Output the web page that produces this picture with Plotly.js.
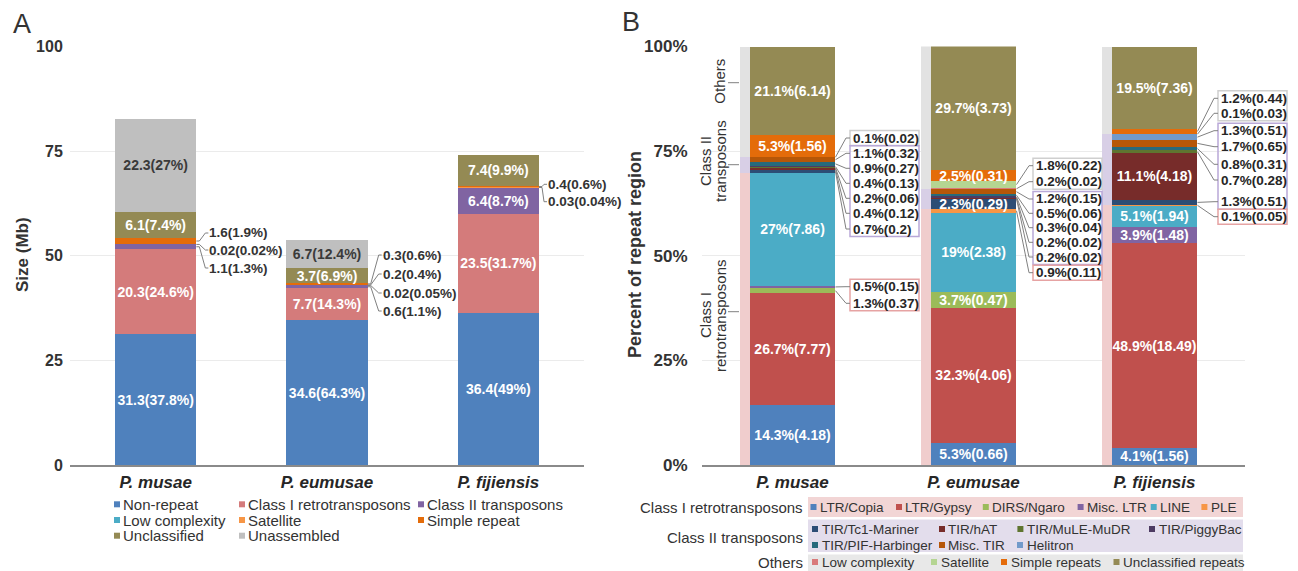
<!DOCTYPE html>
<html><head><meta charset="utf-8">
<script src="https://cdn.plot.ly/plotly-3.0.1.min.js"></script>
<style>html,body{margin:0;padding:0;background:#fff}</style>
</head><body>
<div id="chart" style="width:1298px;height:571px"></div>
<script>
// ================= DATA =================
// Panel A : genome composition (Mb and % of genome)
const speciesA = ['P. musae', 'P. eumusae', 'P. fijiensis'];
const namesA = ['Non-repeat', 'Class I retrotransposons', 'Class II transposons', 'Low complexity',
                'Satellite', 'Simple repeat', 'Unclassified', 'Unassembled'];
const tickValsA = [0, 25, 50, 75, 100];
const nonRepeatMb = [31.3, 34.6, 36.4],  nonRepeatPct = [37.8, 64.3, 49];
const classIMb    = [20.3, 7.7, 23.5],   classIPct    = [24.6, 14.3, 31.7];
const classIIMb   = [1.1, 0.6, 6.4],     classIIPct   = [1.3, 1.1, 8.7];
const lowCompAMb  = [0, 0.02, 0],        lowCompAPct  = [0, 0.05, 0];
const satAMb      = [0.02, 0.2, 0.03],   satAPct      = [0.02, 0.4, 0.04];
const simpleAMb   = [1.6, 0.3, 0.4],     simpleAPct   = [1.9, 0.6, 0.6];
const unclassAMb  = [6.1, 3.7, 7.4],     unclassAPct  = [7.4, 6.9, 9.9];
const unassemMb   = [22.3, 6.7, 0],      unassemPct   = [27, 12.4, 0];

// Panel B : composition of the repeat region (% and Mb)
const speciesB = ['P. musae', 'P. eumusae', 'P. fijiensis'];
const tickValsB = [0, 25, 50, 75, 100];
const tickTextB = ['0%', '25%', '50%', '75%', '100%'];
const namesB = ['LTR/Copia', 'LTR/Gypsy', 'DIRS/Ngaro', 'Misc. LTR', 'LINE', 'PLE',
  'TIR/Tc1-Mariner', 'TIR/hAT', 'TIR/MuLE-MuDR', 'TIR/PiggyBac', 'TIR/PIF-Harbinger', 'Misc. TIR', 'Helitron',
  'Low complexity', 'Satellite', 'Simple repeats', 'Unclassified repeats'];
const groupB = [1, 1, 1, 1, 1, 1, 2, 2, 2, 2, 2, 2, 2, 3, 3, 3, 3];
const groupNamesB = ['Class I retrotransposons', 'Class II transposons', 'Others'];
const copiaPct = [14.3, 5.3, 4.1],   copiaMb = [4.18, 0.66, 1.56];
const gypsyPct = [26.7, 32.3, 48.9], gypsyMb = [7.77, 4.06, 18.49];
const dirsPct = [1.3, 3.7, 0],       dirsMb = [0.37, 0.47, 0];
const miscLtrPct = [0.5, 0, 3.9],    miscLtrMb = [0.15, 0, 1.48];
const linePct = [27, 19, 5.1],       lineMb = [7.86, 2.38, 1.94];
const plePct = [0, 0.9, 0.1],        pleMb = [0, 0.11, 0.05];
const tc1Pct = [0.7, 2.3, 1.3],      tc1Mb = [0.2, 0.29, 0.51];
const hatPct = [0.4, 0.2, 11.1],     hatMb = [0.12, 0.02, 4.18];
const mulePct = [0.2, 0.2, 0.7],     muleMb = [0.06, 0.02, 0.28];
const piggyPct = [0.4, 0.3, 0],      piggyMb = [0.13, 0.04, 0];
const pifPct = [0.9, 0.5, 0.8],      pifMb = [0.27, 0.06, 0.31];
const miscTirPct = [1.1, 1.2, 1.7],  miscTirMb = [0.32, 0.15, 0.65];
const helitronPct = [0, 0, 1.3],     helitronMb = [0, 0, 0.51];
const lowCompPct = [0, 0.2, 0],      lowCompMb = [0, 0.02, 0];
const satPct = [0.1, 1.8, 0.1],      satMb = [0.02, 0.22, 0.03];
const simplePct = [5.3, 2.5, 1.2],   simpleMb = [1.56, 0.31, 0.44];
const unclassPct = [21.1, 29.7, 19.5], unclassMb = [6.14, 3.73, 7.36];

// ================= STYLE / LAYOUT CONFIG =================
const W = 1298, H = 571;
const F = 'Liberation Sans, Arial, Helvetica, sans-serif';
const TXT = '#333333';
const A_X0 = 70, A_X1 = 584, B_X0 = 702, B_X1 = 1245, Y_TOP = 46.5, Y_BOT = 465;
const BAR_W = 0.475, STRIP_W = 0.055;
const fx = p => p / W, fy = p => 1 - p / H;
const vy = v => Y_BOT - v * (Y_BOT - Y_TOP) / 100;
const cxA = (i, off) => A_X0 + (i + 0.5 + off) * (A_X1 - A_X0) / 3;
const cxB = (i, off) => B_X0 + (i + 0.5 + off) * (B_X1 - B_X0) / 3;

const colorsA = ['#4f81bd', '#d47b7b', '#8064a2', '#4bacc6', '#f79646', '#e46c0a', '#948a54', '#bfbfbf'];
const textColA = ['#fff', '#fff', '#fff', '#fff', '#fff', '#fff', '#fff', '#3a3a3a'];
const colorsB = ['#4f81bd', '#c0504d', '#9bbb59', '#8064a2', '#4bacc6', '#f79646',
  '#2c4d75', '#772c2a', '#5f7530', '#4d3b62', '#276a7c', '#b65708', '#729aca',
  '#d97a7a', '#b5d592', '#e46c0a', '#948a54'];
const stripColors = {1: '#f0cdcd', 2: '#d8cfe6', 3: '#e2e2e2'};
const boxColors = {1: '#e6a3a3', 2: '#b9a8d8', 3: '#cfcfcf'};
const legendBg = {1: '#f2d5d5', 2: '#e3ddec', 3: '#e8e8e8'};

const rowsA = [[233, 250, 268], [255, 274, 293, 311], [184.3, 201.7]];
const gapA = [13, 15, 9];
const boxLeftB = [850, 1033, 1218], BOX_W = 69;
const rowsB = {
  3: [[138], [165.7, 181.7], [98.3, 113.3]],
  2: [[153.3, 168.3, 183.3, 198.3, 213.3, 229], [199, 213.3, 227.7, 242.3, 257], [130.7, 146.7, 164.3, 180, 201.7]],
  1: [[286.7, 303.3], [272.7], [216.7]]
};

// ================= BUILD =================
const seriesA = [
  {mb: nonRepeatMb, pct: nonRepeatPct}, {mb: classIMb, pct: classIPct}, {mb: classIIMb, pct: classIIPct},
  {mb: lowCompAMb, pct: lowCompAPct}, {mb: satAMb, pct: satAPct}, {mb: simpleAMb, pct: simpleAPct},
  {mb: unclassAMb, pct: unclassAPct}, {mb: unassemMb, pct: unassemPct}];
const seriesB = [
  {pct: copiaPct, mb: copiaMb}, {pct: gypsyPct, mb: gypsyMb}, {pct: dirsPct, mb: dirsMb},
  {pct: miscLtrPct, mb: miscLtrMb}, {pct: linePct, mb: lineMb}, {pct: plePct, mb: pleMb},
  {pct: tc1Pct, mb: tc1Mb}, {pct: hatPct, mb: hatMb}, {pct: mulePct, mb: muleMb},
  {pct: piggyPct, mb: piggyMb}, {pct: pifPct, mb: pifMb}, {pct: miscTirPct, mb: miscTirMb},
  {pct: helitronPct, mb: helitronMb}, {pct: lowCompPct, mb: lowCompMb}, {pct: satPct, mb: satMb},
  {pct: simplePct, mb: simpleMb}, {pct: unclassPct, mb: unclassMb}];

const traces = [], annotations = [], shapes = [];
const labFont = (size, color, weight) => ({family: F, size: size, color: color, weight: weight || 'normal'});

// ---- Panel A bars ----
seriesA.forEach((s, k) => {
  traces.push({
    type: 'bar', x: speciesA, y: s.mb, name: namesA[k], width: BAR_W, xaxis: 'x', yaxis: 'y',
    marker: {color: colorsA[k], line: {width: 0}},
    text: s.mb.map((v, i) => v >= 3 ? `${v}(${s.pct[i]}%)` : ''),
    textposition: 'inside', insidetextanchor: 'middle', textangle: 0, constraintext: 'none',
    insidetextfont: labFont(14, textColA[k], 'bold'),
    showlegend: false, hoverinfo: 'skip'
  });
});
// Panel A outside labels
for (let i = 0; i < 3; i++) {
  let base = 0; const segs = [];
  seriesA.forEach((s, k) => { const v = s.mb[i]; segs.push({k, lo: base, hi: base + v, v}); base += v; });
  const outs = segs.filter(g => g.v > 0 && g.v < 3).reverse();
  const xr = cxA(i, BAR_W / 2), xt = xr + gapA[i];
  outs.forEach((g, r) => {
    const yRow = rowsA[i][r], ym = vy((g.lo + g.hi) / 2);
    annotations.push({xref: 'paper', yref: 'paper', x: fx(xt - 2), y: fy(yRow), xanchor: 'left', yanchor: 'middle',
      text: `${g.v}(${seriesA[g.k].pct[i]}%)`, showarrow: false, font: labFont(13.5, TXT, 'bold')});
    shapes.push({type: 'path', xref: 'paper', yref: 'paper', layer: 'above',
      path: `M${fx(xr)},${fy(ym)} L${fx(xr + 3)},${fy(ym)} L${fx(xt - 4)},${fy(yRow)} L${fx(xt - 1)},${fy(yRow)}`,
      line: {color: '#808080', width: 1}});
  });
}

// ---- Panel B bars ----
seriesB.forEach((s, k) => {
  traces.push({
    type: 'bar', x: speciesB, y: s.pct, name: namesB[k], width: BAR_W, xaxis: 'x2', yaxis: 'y2',
    marker: {color: colorsB[k], line: {width: 0}},
    text: s.pct.map((v, i) => v >= 2 ? `${v}%(${s.mb[i]})` : ''),
    textposition: 'inside', insidetextanchor: 'middle', textangle: 0, constraintext: 'none',
    insidetextfont: labFont(14, '#fff', 'bold'),
    showlegend: false, hoverinfo: 'skip'
  });
});
// class strips left of each bar
[1, 2, 3].forEach(g => {
  const tot = [0, 1, 2].map(i => seriesB.reduce((a, s, k) => a + (groupB[k] === g ? s.pct[i] : 0), 0));
  traces.push({type: 'bar', x: speciesB, y: tot, name: groupNamesB[g - 1], width: STRIP_W, offset: -BAR_W / 2 - STRIP_W,
    xaxis: 'x3', yaxis: 'y2', marker: {color: stripColors[g], line: {width: 0}}, showlegend: false, hoverinfo: 'skip'});
});
// Panel B outside boxed labels
for (let i = 0; i < 3; i++) {
  let base = 0; const segs = [];
  seriesB.forEach((s, k) => { const v = s.pct[i]; segs.push({k, lo: base, hi: base + v, v}); base += v; });
  const xr = cxB(i, BAR_W / 2), bl = boxLeftB[i];
  [3, 2, 1].forEach(g => {
    const outs = segs.filter(sg => groupB[sg.k] === g && sg.v > 0 && sg.v < 2).reverse();
    const rows = rowsB[g][i];
    if (!outs.length) return;
    shapes.push({type: 'rect', xref: 'paper', yref: 'paper', layer: 'above',
      x0: fx(bl), x1: fx(bl + BOX_W), y0: fy(rows[0] - 7.5), y1: fy(rows[rows.length - 1] + 7.5),
      line: {color: boxColors[g], width: 1.5}, fillcolor: 'rgba(255,255,255,0)'});
    outs.forEach((sg, r) => {
      const yRow = rows[r], ym = vy((sg.lo + sg.hi) / 2);
      annotations.push({xref: 'paper', yref: 'paper', x: fx(bl + 0.5), y: fy(yRow), xanchor: 'left', yanchor: 'middle',
        text: `${sg.v}%(${seriesB[sg.k].mb[i]})`, showarrow: false, font: labFont(13.5, '#262626', 'bold')});
      shapes.push({type: 'path', xref: 'paper', yref: 'paper', layer: 'above',
        path: `M${fx(xr)},${fy(ym)} L${fx(bl - 4)},${fy(yRow)} L${fx(bl)},${fy(yRow)}`,
        line: {color: '#808080', width: 1}});
    });
  });
}

// Panel B class labels at the left of the strips
const groupSideLabels = [
  {lines: ['Others'], xs: [720], y: 80.7, lineY: 82.7},
  {lines: ['Class II', 'transposons'], xs: [705, 720], y: 161, lineY: 164.7},
  {lines: ['Class I', 'retrotransposons'], xs: [705, 720], y: 315, lineY: 311.7}];
groupSideLabels.forEach(gl => {
  gl.lines.forEach((t, j) => annotations.push({xref: 'paper', yref: 'paper', x: fx(gl.xs[j]), y: fy(gl.y),
    xanchor: 'center', yanchor: 'middle', textangle: -90, text: t, showarrow: false, font: labFont(15, TXT)}));
  shapes.push({type: 'line', xref: 'paper', yref: 'paper', x0: fx(728), x1: fx(739), y0: fy(gl.lineY), y1: fy(gl.lineY),
    line: {color: '#808080', width: 1}});
});

// Panel letters and axis titles
annotations.push({xref: 'paper', yref: 'paper', x: fx(11), y: fy(24), xanchor: 'left', yanchor: 'middle', text: 'A', showarrow: false, font: labFont(27, TXT)});
annotations.push({xref: 'paper', yref: 'paper', x: fx(620), y: fy(22), xanchor: 'left', yanchor: 'middle', text: 'B', showarrow: false, font: labFont(27, TXT)});
annotations.push({xref: 'paper', yref: 'paper', x: fx(22), y: fy(255), xanchor: 'center', yanchor: 'middle', textangle: -90, text: 'Size (Mb)', showarrow: false, font: labFont(17, TXT, 'bold')});
annotations.push({xref: 'paper', yref: 'paper', x: fx(635), y: fy(255), xanchor: 'center', yanchor: 'middle', textangle: -90, text: 'Percent of repeat region', showarrow: false, font: labFont(18, TXT, 'bold')});

// Legend A
const legACols = [114, 239, 418], legARows = [504.3, 520, 535.7];
namesA.forEach((n, k) => {
  const x = legACols[k % 3], y = legARows[Math.floor(k / 3)];
  shapes.push({type: 'rect', xref: 'paper', yref: 'paper', x0: fx(x), x1: fx(x + 6), y0: fy(y - 3), y1: fy(y + 3), line: {width: 0}, fillcolor: colorsA[k]});
  annotations.push({xref: 'paper', yref: 'paper', x: fx(x + 7), y: fy(y), xanchor: 'left', yanchor: 'middle', text: n, showarrow: false, font: labFont(15, TXT)});
});

// Legend B
const legBBg = {1: [497, 517], 2: [519.5, 552], 3: [554.5, 571]};
const legBGroupY = {1: 507, 2: 537, 3: 562};
[1, 2, 3].forEach(g => {
  shapes.push({type: 'rect', xref: 'paper', yref: 'paper', layer: 'below', x0: fx(808), x1: fx(1243), y0: fy(legBBg[g][0]), y1: fy(legBBg[g][1]), line: {width: 0}, fillcolor: legendBg[g]});
  annotations.push({xref: 'paper', yref: 'paper', x: fx(805), y: fy(legBGroupY[g]), xanchor: 'right', yanchor: 'middle', text: groupNamesB[g - 1], showarrow: false, font: labFont(15, TXT)});
});
const legBPos = [[810.5, 507], [896, 507], [982.8, 507], [1077.6, 507], [1150.7, 507], [1201.4, 507],
  [812, 529], [939, 529], [1017.4, 529], [1149, 529], [812, 545], [939, 545], [1017, 545],
  [812, 562], [931, 562], [1001, 562], [1113.5, 562]];
namesB.forEach((n, k) => {
  const [x, y] = legBPos[k];
  shapes.push({type: 'rect', xref: 'paper', yref: 'paper', x0: fx(x), x1: fx(x + 6), y0: fy(y - 3), y1: fy(y + 3), line: {width: 0}, fillcolor: colorsB[k]});
  annotations.push({xref: 'paper', yref: 'paper', x: fx(x + 7.5), y: fy(y), xanchor: 'left', yanchor: 'middle', text: n, showarrow: false, font: labFont(13.5, TXT)});
});

// ================= LAYOUT =================
const yDom = [1 - Y_BOT / H, 1 - Y_TOP / H];
const catTickFont = {family: F, size: 17, weight: 'bold', style: 'italic', color: '#262626'};
const xBase = {type: 'category', range: [-0.5, 2.5], showgrid: false, zeroline: false, showline: true,
  linecolor: '#8a8a8a', linewidth: 1.5, ticks: 'outside', ticklen: 1, tickcolor: 'rgba(0,0,0,0)', tickfont: catTickFont, fixedrange: true};
const yBase = {range: [0, 100], domain: yDom, showgrid: true, gridcolor: '#ebebeb', gridwidth: 1, zeroline: false, showline: false,
  ticks: 'outside', tickcolor: 'rgba(0,0,0,0)', fixedrange: true};
const layout = {
  width: W, height: H, margin: {l: 0, r: 0, t: 0, b: 0}, paper_bgcolor: '#fff', plot_bgcolor: 'rgba(0,0,0,0)',
  font: {family: F, color: TXT}, barmode: 'stack', showlegend: false,
  xaxis: Object.assign({}, xBase, {domain: [A_X0 / W, A_X1 / W], anchor: 'y'}),
  yaxis: Object.assign({}, yBase, {anchor: 'x', tickmode: 'array', tickvals: tickValsA, ticklen: 3,
    tickfont: {family: F, size: 16, weight: 'bold', color: TXT}}),
  xaxis2: Object.assign({}, xBase, {domain: [B_X0 / W, B_X1 / W], anchor: 'y2'}),
  yaxis2: Object.assign({}, yBase, {anchor: 'x2', tickmode: 'array', tickvals: tickValsB, ticktext: tickTextB, ticklen: 10,
    tickfont: {family: F, size: 17, weight: 'bold', color: TXT}}),
  xaxis3: {type: 'category', range: [-0.5, 2.5], domain: [B_X0 / W, B_X1 / W], anchor: 'y2', overlaying: 'x2', visible: false, fixedrange: true},
  annotations: annotations, shapes: shapes
};
Plotly.newPlot('chart', traces, layout, {displayModeBar: false, staticPlot: true});
</script>
</body></html>
